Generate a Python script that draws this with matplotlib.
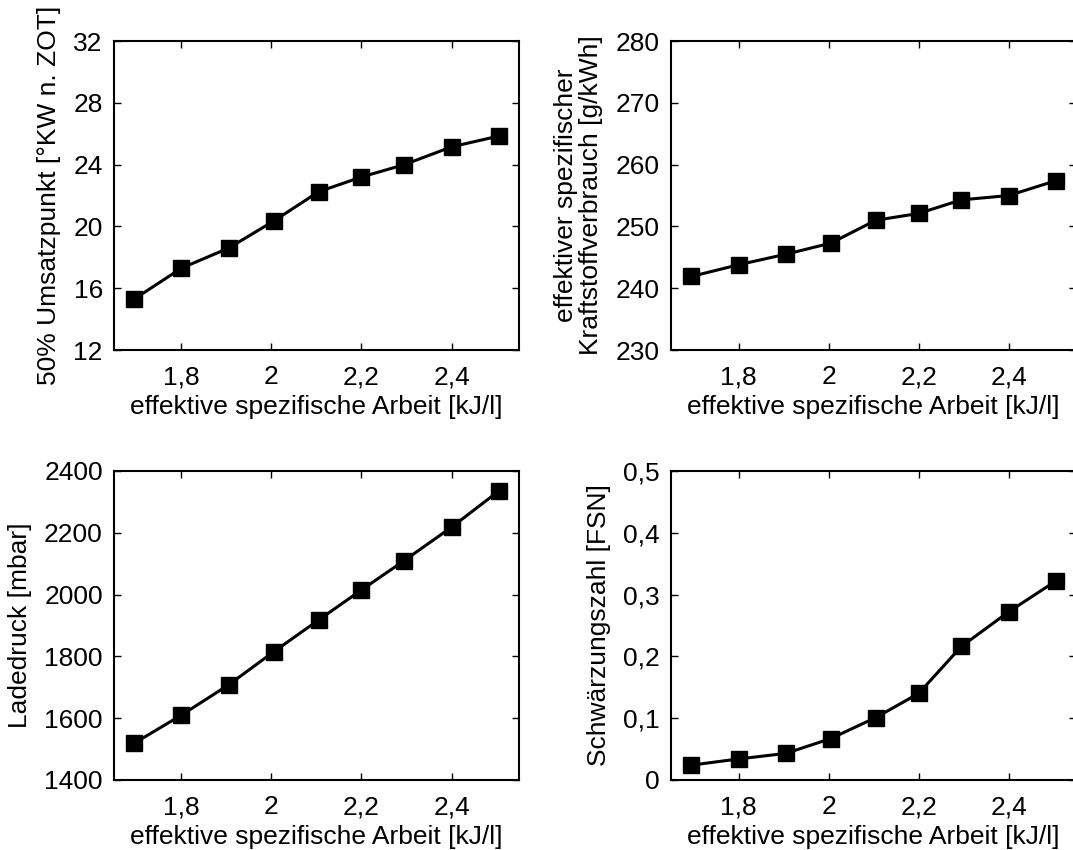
import matplotlib
matplotlib.use("Agg")
from matplotlib import pyplot as plt

plt.rcParams["font.family"] = ["Liberation Sans", "DejaVu Sans"]
plt.rcParams["font.size"] = 19

# gemessene Werte
arbeit = [1.695, 1.8, 1.905, 2.005, 2.105, 2.2, 2.295, 2.4, 2.505]
umsatzpunkt = [15.3, 17.3, 18.6, 20.35, 22.25, 23.2, 24.0, 25.15, 25.85]
verbrauch = [241.9, 243.8, 245.5, 247.3, 251.0, 252.1, 254.3, 255.0, 257.4]
ladedruck = [1519, 1610, 1708, 1815, 1918, 2015, 2110, 2218, 2335]
fsn = [0.024, 0.034, 0.043, 0.067, 0.101, 0.140, 0.216, 0.272, 0.322]

x_ticks = [1.8, 2.0, 2.2, 2.4]
x_ticklabels = ["1,8", "2", "2,2", "2,4"]
x_label = "effektive spezifische Arbeit [kJ/l]"

panels = [
    (umsatzpunkt, "50% Umsatzpunkt [°KW n. ZOT]", (12, 32),
     [12, 16, 20, 24, 28, 32], ["12", "16", "20", "24", "28", "32"]),
    (verbrauch, "effektiver spezifischer\nKraftstoffverbrauch [g/kWh]", (230, 280),
     [230, 240, 250, 260, 270, 280], ["230", "240", "250", "260", "270", "280"]),
    (ladedruck, "Ladedruck [mbar]", (1400, 2400),
     [1400, 1600, 1800, 2000, 2200, 2400], ["1400", "1600", "1800", "2000", "2200", "2400"]),
    (fsn, "Schwärzungszahl [FSN]", (0, 0.5),
     [0, 0.1, 0.2, 0.3, 0.4, 0.5], ["0", "0,1", "0,2", "0,3", "0,4", "0,5"]),
]

positions = [
    [0.1062, 0.5882, 0.3775, 0.3635],
    [0.6254, 0.5882, 0.3775, 0.3635],
    [0.1062, 0.0824, 0.3775, 0.3635],
    [0.6254, 0.0824, 0.3775, 0.3635],
]

fig = plt.figure(figsize=(10.73, 8.5), dpi=100)

for pos, (y, ylabel, ylim, yticks, yticklabels) in zip(positions, panels):
    ax = fig.add_axes(pos)
    ax.plot(arbeit, y, color="black", linewidth=2.2, marker="s", markersize=12)
    ax.set_xlim(1.65, 2.55)
    ax.set_ylim(*ylim)
    ax.set_xticks(x_ticks)
    ax.set_xticklabels(x_ticklabels)
    ax.set_yticks(yticks)
    ax.set_yticklabels(yticklabels)
    ax.set_xlabel(x_label, labelpad=4)
    ax.set_ylabel(ylabel, labelpad=9, linespacing=1.05)
    ax.tick_params(direction="in", top=True, right=True, length=5, width=1)
    ax.tick_params(axis="x", pad=11)
    ax.tick_params(axis="y", pad=8)
    for sp in ax.spines.values():
        sp.set_linewidth(1.5)

fig.savefig("out.png", dpi=100)
